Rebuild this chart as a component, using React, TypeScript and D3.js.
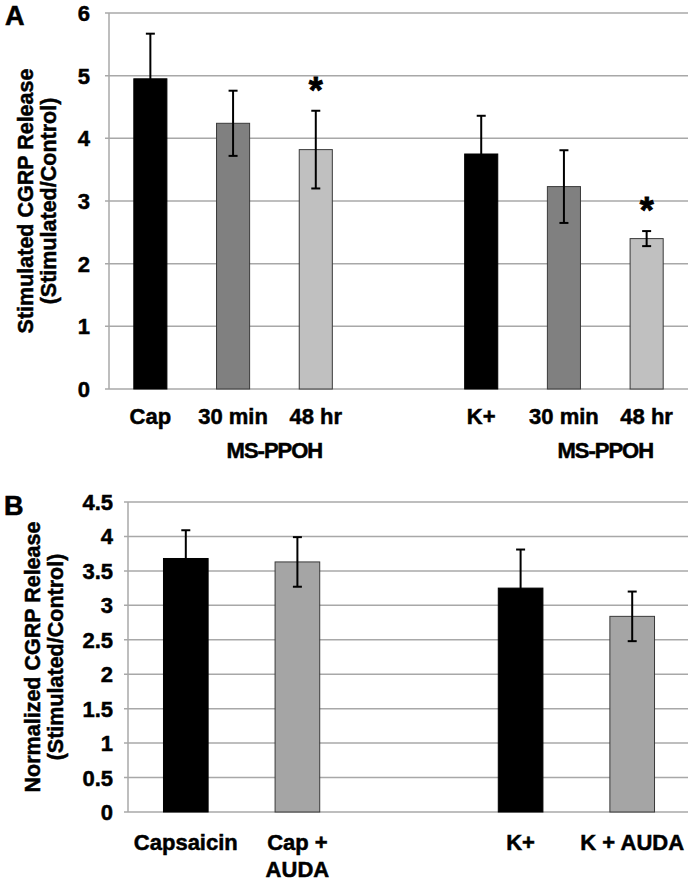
import React from "react";
import * as d3 from "d3";

// ---------- Panel A data ----------
const aLabels = ["Cap", "30 min", "48 hr", "K+", "30 min", "48 hr"];
const aMeans = [4.95, 4.24, 3.82, 3.75, 3.23, 2.4];
const aErrors = [0.72, 0.52, 0.62, 0.61, 0.58, 0.12];
const aSignificant = [false, false, true, false, false, true];
const aGroupLabels = ["MS-PPOH", "MS-PPOH"];
const aTicks = [0, 1, 2, 3, 4, 5, 6];
const aColors = ["#000000", "#808080", "#c0c0c0", "#000000", "#808080", "#c0c0c0"];

// ---------- Panel B data ----------
const bLabels = [["Capsaicin"], ["Cap +", "AUDA"], ["K+"], ["K + AUDA"]];
const bMeans = [3.68, 3.63, 3.25, 2.84];
const bErrors = [0.41, 0.36, 0.56, 0.36];
const bTicks = [0, 0.5, 1, 1.5, 2, 2.5, 3, 3.5, 4, 4.5];
const bColors = ["#000000", "#a5a5a5", "#000000", "#a5a5a5"];

const FONT = "'Liberation Sans', Arial, Helvetica, sans-serif";
const GRID = "#a8a8a8";

export default function App() {
  // Panel A scales
  const axA = 109;
  const xA = d3.scaleBand<number>().domain(d3.range(7)).range([axA, 688]).paddingInner(0).paddingOuter(0);
  const yA = d3.scaleLinear().domain([0, 6]).range([389, 13]);
  const slotA = (i: number) => (i < 3 ? i : i + 1);
  const bwA = xA.bandwidth() * 0.4;

  // Panel B scales
  const axB = 128;
  const xB = d3.scaleBand<number>().domain(d3.range(5)).range([130, 688]);
  const yB = d3.scaleLinear().domain([0, 4.5]).range([812, 502]);
  const slotB = (i: number) => (i < 2 ? i : i + 1);
  const bwB = xB.bandwidth() * 0.4;

  const cxA = (i: number) => (xA(slotA(i)) as number) + xA.bandwidth() / 2;
  const cxB = (i: number) => (xB(slotB(i)) as number) + xB.bandwidth() / 2;

  const fs = 22;
  const ts = 21.5;

  return (
    <svg
      width={694}
      height={883}
      style={{ position: "absolute", left: 0, top: 0, background: "#fff" }}
      fontFamily={FONT}
      fontWeight="bold"
    >
      <rect width={694} height={883} fill="#fff" />
      <g stroke="#000" strokeWidth={0.6} fill="#000">
        <text x={5} y={25} fontSize={27}>A</text>
        <text x={4} y={515} fontSize={27}>B</text>
      </g>

      {/* ================= Panel A ================= */}
      {aTicks.map((t) => (
        <line key={"ga" + t} x1={axA - 4} x2={688} y1={yA(t)} y2={yA(t)} stroke={GRID} strokeWidth={1.5} />
      ))}
      <line x1={axA} x2={axA} y1={yA(6)} y2={yA(0)} stroke={GRID} strokeWidth={1.5} />
      <g stroke="#000" strokeWidth={0.5}>
        {aTicks.map((t) => (
          <text key={"ta" + t} x={90} y={yA(t) + 8} fontSize={fs} textAnchor="end">{t}</text>
        ))}
        <g transform={`translate(33,${(yA(0) + yA(6)) / 2}) rotate(-90)`}>
          <text textAnchor="middle" fontSize={ts}>Stimulated CGRP Release</text>
        </g>
        <g transform={`translate(56,${(yA(0) + yA(6)) / 2}) rotate(-90)`}>
          <text textAnchor="middle" fontSize={ts}>(Stimulated/Control)</text>
        </g>
      </g>
      {aMeans.map((m, i) => {
        const cx = cxA(i);
        const e = aErrors[i];
        return (
          <g key={"ba" + i}>
            <rect
              x={cx - bwA / 2}
              y={yA(m)}
              width={bwA}
              height={yA(0) - yA(m)}
              fill={aColors[i]}
              stroke={aColors[i] === "#000000" ? "#000" : "#3a3a3a"}
              strokeWidth={1}
            />
            <line x1={cx} x2={cx} y1={yA(m + e)} y2={yA(m - e)} stroke="#000" strokeWidth={2} />
            <line x1={cx - 4.5} x2={cx + 4.5} y1={yA(m + e)} y2={yA(m + e)} stroke="#000" strokeWidth={2} />
            <line x1={cx - 4.5} x2={cx + 4.5} y1={yA(m - e)} y2={yA(m - e)} stroke="#000" strokeWidth={2} />
            {aSignificant[i] && (
              <text x={cx} y={yA(m + e) - 28 + 20} fontSize={36} textAnchor="middle" stroke="#000" strokeWidth={0.8}>*</text>
            )}
            <text x={cx} y={424} fontSize={fs} textAnchor="middle" stroke="#000" strokeWidth={0.5}>{aLabels[i]}</text>
          </g>
        );
      })}
      {aGroupLabels.map((g, k) => (
        <text
          key={"gl" + k}
          x={(cxA(k * 3 + 1) + cxA(k * 3 + 2)) / 2}
          y={458}
          fontSize={fs}
          textAnchor="middle"
          letterSpacing={-1}
          stroke="#000"
          strokeWidth={0.5}
        >
          {g}
        </text>
      ))}

      {/* ================= Panel B ================= */}
      {bTicks.map((t) => (
        <line key={"gb" + t} x1={axB - 4} x2={688} y1={yB(t)} y2={yB(t)} stroke={GRID} strokeWidth={1.5} />
      ))}
      <line x1={axB} x2={axB} y1={yB(4.5)} y2={yB(0)} stroke={GRID} strokeWidth={1.5} />
      <g stroke="#000" strokeWidth={0.5}>
        {bTicks.map((t) => (
          <text key={"tb" + t} x={113} y={yB(t) + 8} fontSize={fs} textAnchor="end">{t}</text>
        ))}
        <g transform={`translate(40,${(yB(0) + yB(4.5)) / 2}) rotate(-90)`}>
          <text textAnchor="middle" fontSize={ts}>Normalized CGRP Release</text>
        </g>
        <g transform={`translate(63,${(yB(0) + yB(4.5)) / 2}) rotate(-90)`}>
          <text textAnchor="middle" fontSize={ts}>(Stimulated/Control)</text>
        </g>
      </g>
      {bMeans.map((m, i) => {
        const cx = cxB(i);
        const e = bErrors[i];
        return (
          <g key={"bb" + i}>
            <rect
              x={cx - bwB / 2}
              y={yB(m)}
              width={bwB}
              height={yB(0) - yB(m)}
              fill={bColors[i]}
              stroke={bColors[i] === "#000000" ? "#000" : "#3a3a3a"}
              strokeWidth={1}
            />
            <line x1={cx} x2={cx} y1={yB(m + e)} y2={yB(m - e)} stroke="#000" strokeWidth={2} />
            <line x1={cx - 4.5} x2={cx + 4.5} y1={yB(m + e)} y2={yB(m + e)} stroke="#000" strokeWidth={2} />
            <line x1={cx - 4.5} x2={cx + 4.5} y1={yB(m - e)} y2={yB(m - e)} stroke="#000" strokeWidth={2} />
            {bLabels[i].map((l, j) => (
              <text key={j} x={cx} y={850 + j * 27} fontSize={fs} textAnchor="middle" stroke="#000" strokeWidth={0.5}>{l}</text>
            ))}
          </g>
        );
      })}
    </svg>
  );
}
